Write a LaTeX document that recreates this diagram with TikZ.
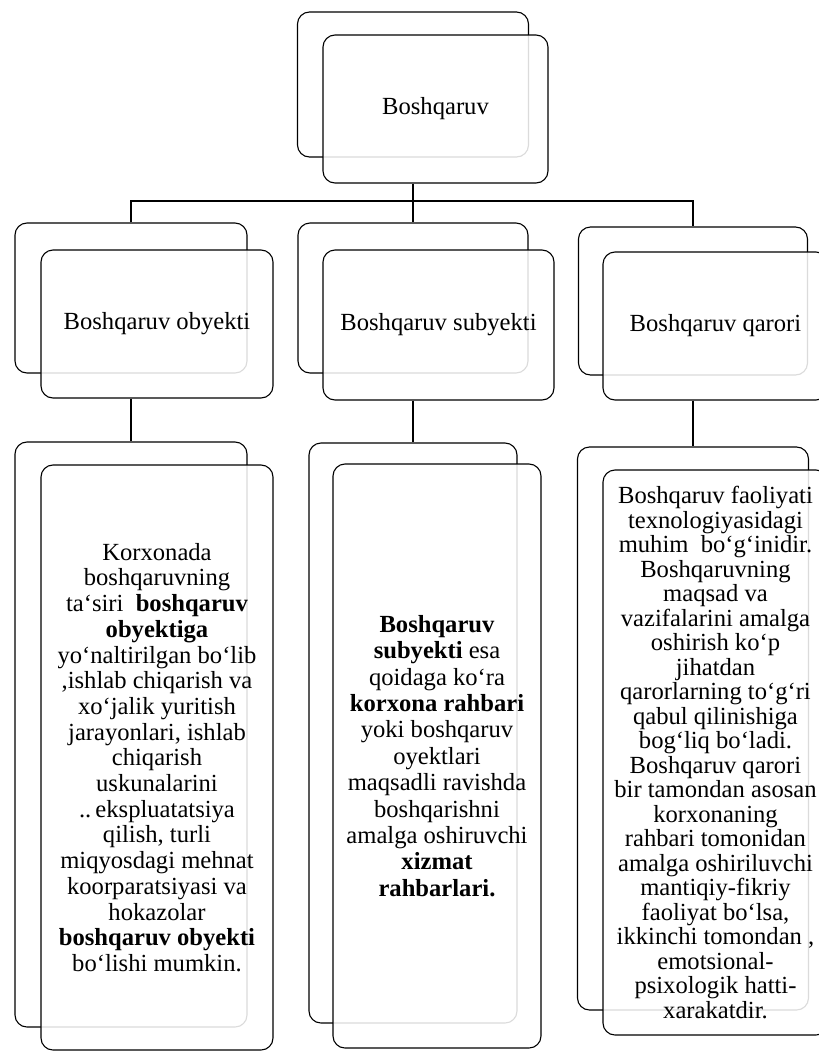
\documentclass[tikz,border=0pt]{standalone}
\usepackage{fontspec}
\setmainfont{Liberation Serif}
\usepackage{tikz}
\usetikzlibrary{positioning}

\begin{document}
\begin{tikzpicture}[
    x=1bp, y=-1bp,
    line width=1.1bp,
    back/.style={rectangle, draw, rounded corners=12bp, inner sep=0pt},
    front/.style={rectangle, draw, rounded corners=12bp, fill=white, fill opacity=0.86, text opacity=1,
                  align=center, inner sep=2bp, font=\fontsize{24.7}{25.8}\selectfont},
    link/.style={draw, line width=1.1bp}
]
\clip (0,0) rectangle (819,1052);

% Top level
\node[back, minimum width=231bp, minimum height=145bp] (topback) at (413,84.5) {};
\node[front, minimum width=225bp, minimum height=148bp] (top) at (435.5,109) {Boshqaruv};

% Second level: back boxes
\node[back, minimum width=232bp, minimum height=150bp] (objback) at (131,298) {};
\node[back, minimum width=230bp, minimum height=150bp] (subback) at (413,298) {};
\node[back, minimum width=229bp, minimum height=148bp] (decback) at (693,301) {};

% Second level: front boxes
\node[front, minimum width=232bp, minimum height=148bp] (obj) at (157,324) {Boshqaruv obyekti};
\node[front, minimum width=231bp, minimum height=150bp] (sub) at (438.5,325) {Boshqaruv subyekti};
\node[front, minimum width=225bp, minimum height=148bp] (dec) at (715.5,326) {Boshqaruv qarori};

% Third level: back boxes
\node[back, minimum width=232bp, minimum height=585bp] (objtxtback) at (131,734.5) {};
\node[back, minimum width=208bp, minimum height=580bp] (subtxtback) at (413,733) {};
\node[back, minimum width=231bp, minimum height=563bp] (dectxtback) at (693,728.5) {};

% Third level: texts
\node[front, minimum width=232bp, minimum height=585bp] (objtxt) at (157,757.5) {%
    Korxonada\\ boshqaruvning\\ ta‘siri~ \textbf{boshqaruv}\\ \textbf{obyektiga}\\
    yo‘naltirilgan bo‘lib\\ ,ishlab chiqarish va\\ xo‘jalik yuritish\\
    jarayonlari, ishlab\\ chiqarish\\ uskunalarini\\ ..\,ekspluatatsiya\\
    qilish, turli\\ miqyosdagi mehnat\\ koorparatsiyasi va\\ hokazolar\\
    \textbf{boshqaruv obyekti}\\ bo‘lishi mumkin.};
\node[front, minimum width=208bp, minimum height=584bp,
      font=\fontsize{24.7}{26.5}\selectfont] (subtxt) at (437,756) {%
    \textbf{Boshqaruv}\\ \textbf{subyekti} esa\\ qoidaga ko‘ra\\
    \textbf{korxona rahbari}\\ yoki boshqaruv\\ oyektlari\\ maqsadli ravishda\\
    boshqarishni\\ amalga oshiruvchi\\ \textbf{xizmat}\\ \textbf{rahbarlari.}};
\node[front, minimum width=225bp, minimum height=565bp,
      font=\fontsize{24.7}{24.6}\selectfont] (dectxt) at (715.5,752.5) {%
    Boshqaruv faoliyati\\ texnologiyasidagi\\ muhim~ bo‘g‘inidir.\\ Boshqaruvning\\
    maqsad va\\ vazifalarini amalga\\ oshirish ko‘p\\ jihatdan\\
    qarorlarning to‘g‘ri\\ qabul qilinishiga\\ bog‘liq bo‘ladi.\\ Boshqaruv qarori\\
    bir tamondan asosan\\ korxonaning\\ rahbari tomonidan\\ amalga oshiriluvchi\\
    mantiqiy-fikriy\\ faoliyat bo‘lsa,\\ ikkinchi tomondan ,\\ emotsional-\\
    psixologik hatti-\\ xarakatdir.};

% Connectors
\coordinate (bus) at (413,201);
\draw[link] (top.south -| subback.north) -- (subback.north);
\draw[link] (objback.north) |- (bus) -| (decback.north);
\draw[link] (obj.south -| objback.south) -- (objtxtback.north);
\draw[link] (sub.south -| subtxtback.north) -- (subtxtback.north);
\draw[link] (dec.south -| decback.south) -- (dectxtback.north);
\end{tikzpicture}
\end{document}
